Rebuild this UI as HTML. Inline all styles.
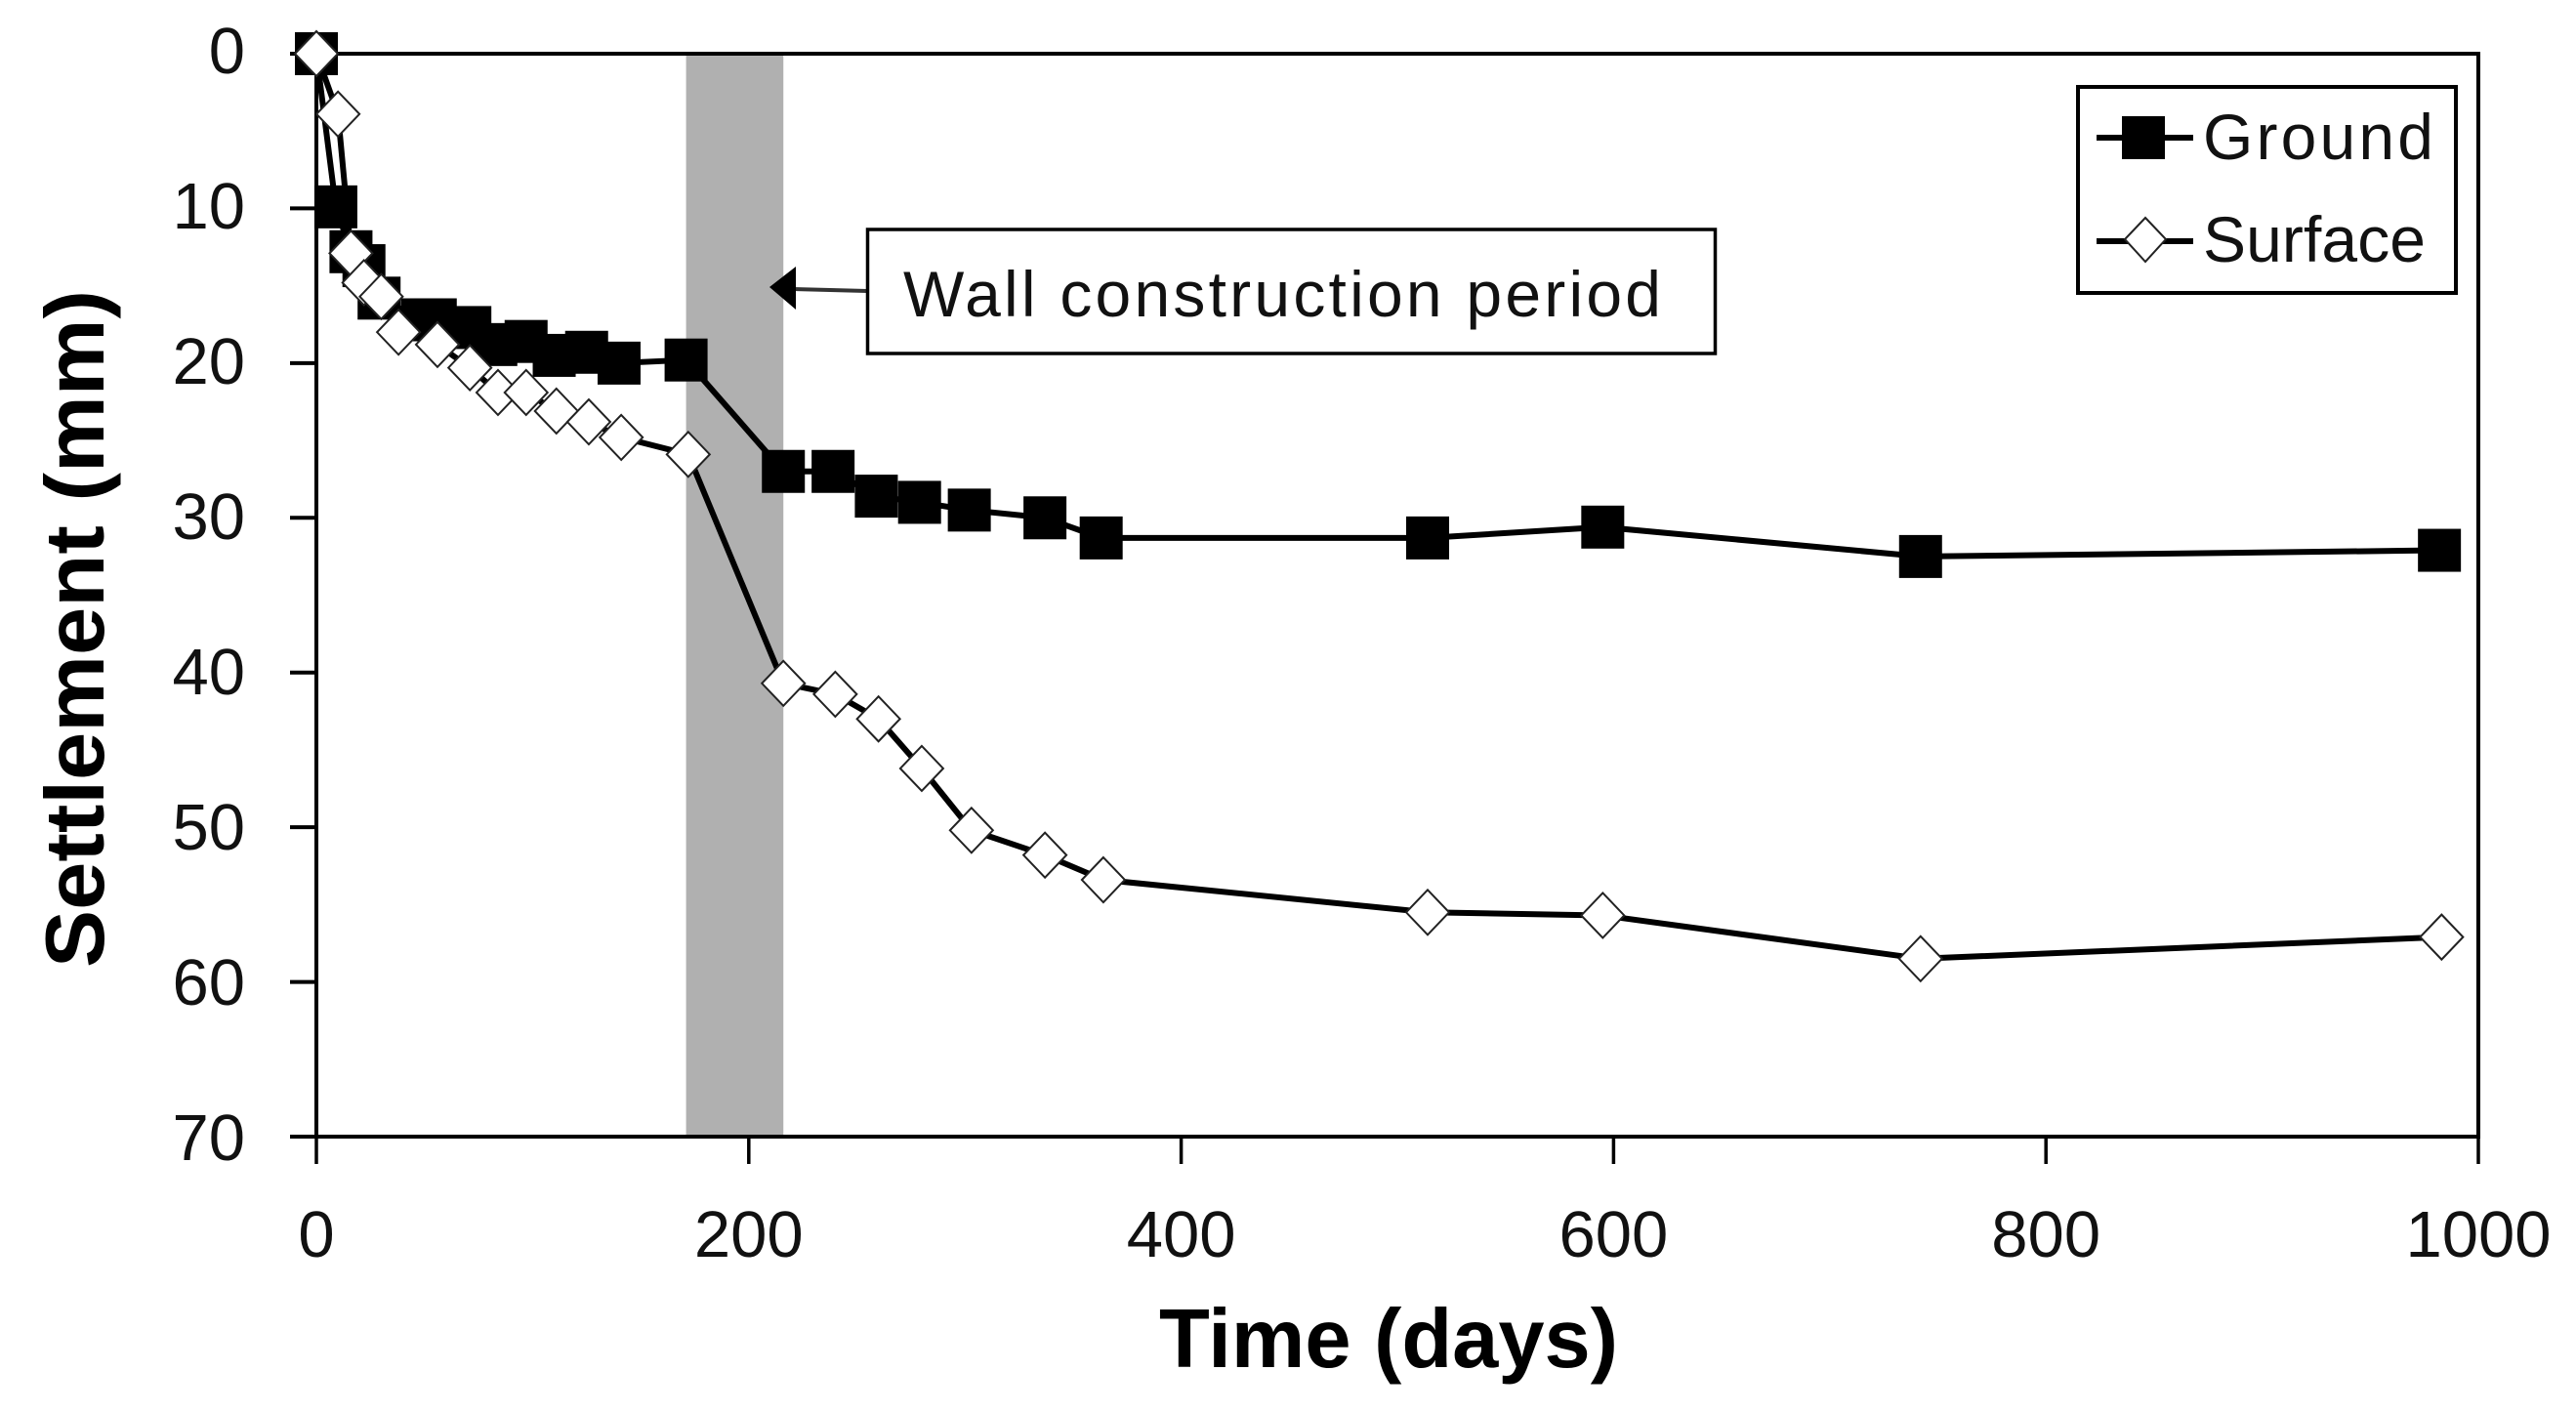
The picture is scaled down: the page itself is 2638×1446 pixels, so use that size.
<!DOCTYPE html>
<html lang="en">
<head>
<meta charset="utf-8">
<title>Settlement versus time</title>
<style>
html,body{margin:0;padding:0;background:#fff;}
svg{display:block;}
text{font-family:"Liberation Sans",sans-serif;fill:#111;}
.tick-label{font-size:67px;}
.axis-title{font-size:85px;font-weight:bold;fill:#000;}
</style>
</head>
<body>
<svg id="chart" xmlns="http://www.w3.org/2000/svg" width="2638" height="1446" viewBox="0 0 2638 1446">
  <rect x="0" y="0" width="2638" height="1446" fill="#fff"/>
  <g id="band-layer"></g>
  <g id="axis-layer"></g>
  <g id="series-layer"></g>

  <text class="axis-title" x="1187" y="1400" textLength="470" lengthAdjust="spacingAndGlyphs">Time (days)</text>
  <text class="axis-title" transform="translate(106,991) rotate(-90)" x="0" y="0" textLength="694" lengthAdjust="spacingAndGlyphs">Settlement (mm)</text>

  <g>
    <line x1="812" y1="296" x2="888" y2="298" stroke="#333" stroke-width="4"/>
    <polygon points="788,294 815,273 815,317" fill="#000"/>
    <rect x="888.5" y="235" width="868" height="127" fill="#fff" stroke="#000" stroke-width="3.5"/>
    <text x="925" y="324" font-size="66" textLength="776" lengthAdjust="spacing">Wall construction period</text>
  </g>

  <g>
    <rect x="2128" y="89" width="387" height="211" fill="#fff" stroke="#000" stroke-width="4"/>
    <g>
      <line x1="2147" y1="141" x2="2246" y2="141" stroke="#000" stroke-width="6"/>
      <rect x="2173" y="119" width="44" height="44" fill="#000"/>
      <text x="2256" y="163" font-size="66" textLength="236" lengthAdjust="spacing">Ground</text>
    </g>
    <g>
      <line x1="2147" y1="247" x2="2246" y2="247" stroke="#000" stroke-width="6"/>
      <polygon points="2197,223 2218,245 2197,268 2176,245" fill="#fff" stroke="#222" stroke-width="2"/>
      <text x="2256" y="268" font-size="66" textLength="228" lengthAdjust="spacing">Surface</text>
    </g>
  </g>
</svg>

<script>
const xTickValues = [0, 200, 400, 600, 800, 1000];
const yTickValues = [0, 10, 20, 30, 40, 50, 60, 70];
const constructionPeriod = [171, 216];
const groundDays = [0, 9, 16, 22, 29, 49, 55, 71, 83, 97, 110, 125, 140, 171, 216, 239, 259, 279, 302, 337, 363, 514, 595, 742, 982];
const groundSettlement = [0, 9.9, 12.8, 13.7, 15.8, 17.2, 17.2, 17.7, 18.8, 18.6, 19.5, 19.3, 20.0, 19.8, 27.0, 27.0, 28.6, 29.0, 29.5, 30.0, 31.3, 31.3, 30.6, 32.5, 32.1];
const surfaceDays = [0, 10, 16, 22, 30, 38, 56, 71, 84, 97, 111, 126, 141, 172, 216, 240, 260, 280, 303, 337, 364, 514, 595, 742, 983];
const surfaceSettlement = [0, 3.9, 12.9, 14.8, 15.7, 18.0, 18.8, 20.3, 21.9, 21.9, 23.1, 23.8, 24.8, 25.9, 40.7, 41.4, 43.0, 46.2, 50.2, 51.8, 53.4, 55.5, 55.7, 58.5, 57.1];

const plotLeft = 324, plotRight = 2538, plotTop = 55, plotBottom = 1164;
const xScale = d => plotLeft + (plotRight - plotLeft) * d / 1000;
const yScale = s => plotTop + (plotBottom - plotTop) * s / 70;
const SVG_NS = 'http://www.w3.org/2000/svg';

function make(parent, tag, attrs) {
  const el = document.createElementNS(SVG_NS, tag);
  for (const k in attrs) el.setAttribute(k, attrs[k]);
  parent.appendChild(el);
  return el;
}

const bandLayer = document.getElementById('band-layer');
const axisLayer = document.getElementById('axis-layer');
const seriesLayer = document.getElementById('series-layer');

const band = make(bandLayer, 'rect', {
  x: xScale(constructionPeriod[0]), y: plotTop,
  width: xScale(constructionPeriod[1]) - xScale(constructionPeriod[0]),
  height: plotBottom - plotTop, fill: '#b0b0b0'
});



const frame = make(axisLayer, 'rect', {
  x: plotLeft, y: plotTop, width: plotRight - plotLeft, height: plotBottom - plotTop,
  fill: 'none', stroke: '#000', 'stroke-width': 4
});



xTickValues.forEach(v => {
  const t = make(axisLayer, 'line', {
    x1: xScale(v), x2: xScale(v), y1: plotBottom, y2: plotBottom + 28,
    stroke: '#000', 'stroke-width': 3.5
  });
  
  
  const label = make(axisLayer, 'text', {
    x: xScale(v), y: 1287, 'text-anchor': 'middle', class: 'tick-label'
  });
  label.textContent = String(v);
  
  
});

yTickValues.forEach(v => {
  const t = make(axisLayer, 'line', {
    x1: plotLeft - 27, x2: plotLeft, y1: yScale(v), y2: yScale(v),
    stroke: '#000', 'stroke-width': 4
  });
  
  
  const label = make(axisLayer, 'text', {
    x: 251, y: yScale(v) + 20 + v * 0.06, 'text-anchor': 'end', class: 'tick-label'
  });
  label.textContent = String(v);
  
  
});

function pointString(days, values) {
  return days.map((d, i) => xScale(d) + ',' + yScale(values[i])).join(' ');
}

const groundLine = make(seriesLayer, 'polyline', {
  points: pointString(groundDays, groundSettlement),
  fill: 'none', stroke: '#000', 'stroke-width': 6, 'stroke-linejoin': 'round'
});



groundDays.forEach((d, i) => {
  const m = make(seriesLayer, 'rect', {
    x: xScale(d) - 22, y: yScale(groundSettlement[i]) - 22, width: 44, height: 44, fill: '#000'
  });
  
  
});

const surfaceLine = make(seriesLayer, 'polyline', {
  points: pointString(surfaceDays, surfaceSettlement),
  fill: 'none', stroke: '#000', 'stroke-width': 6, 'stroke-linejoin': 'round'
});



surfaceDays.forEach((d, i) => {
  const cx = xScale(d), cy = yScale(surfaceSettlement[i]);
  const m = make(seriesLayer, 'polygon', {
    points: [cx, cy - 23, cx + 22, cy, cx, cy + 23, cx - 22, cy].join(' '),
    fill: '#fff', stroke: '#222', 'stroke-width': 2
  });
  
  
});
</script>
</body>
</html>
